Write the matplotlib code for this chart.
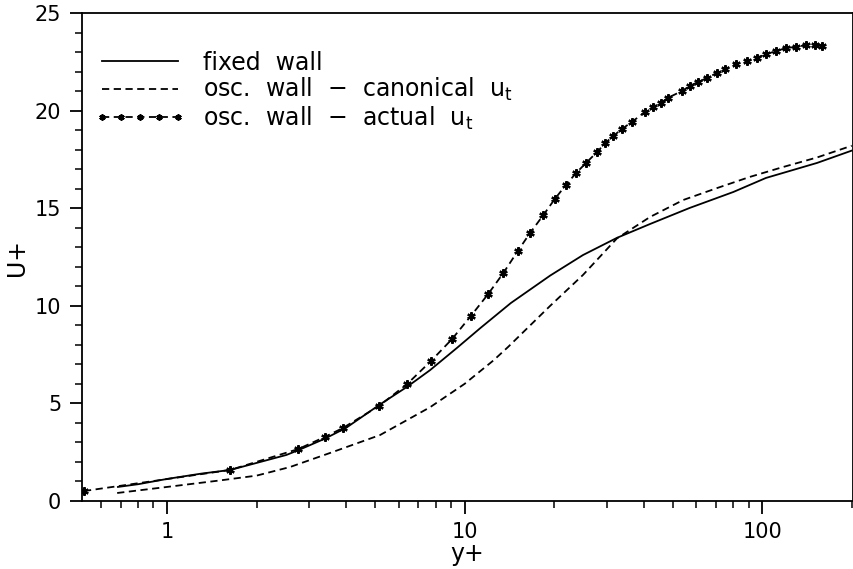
import numpy as np
import matplotlib
matplotlib.use("Agg")
from matplotlib import pyplot as plt
from matplotlib.ticker import FixedLocator, MultipleLocator, LogLocator, NullFormatter

# mean velocity profiles, wall units
fixed_y = [0.684, 0.8, 1.0, 1.3, 1.63, 2.0, 2.52, 2.76, 3.4, 4.0, 5.2, 6.41,
           7.65, 9.44, 11.3, 14.3, 19.4, 25.0, 32.5, 42.0, 57.0, 80.0, 103.0,
           153.0, 200.0]
fixed_u = [0.72, 0.86, 1.13, 1.40, 1.59, 1.95, 2.36, 2.60, 3.20, 3.75, 4.95,
           5.85, 6.70, 7.85, 8.86, 10.14, 11.55, 12.60, 13.48, 14.19, 15.01,
           15.83, 16.55, 17.32, 17.95]

canon_y = [0.68, 1.0, 1.5, 2.0, 2.59, 3.53, 5.2, 7.65, 10.0, 12.5, 14.0, 19.4,
           25.0, 32.5, 42.0, 54.3, 70.5, 90.8, 117.0, 153.0, 200.0]
canon_u = [0.41, 0.72, 1.05, 1.30, 1.74, 2.46, 3.38, 4.80, 6.00, 7.20, 7.89,
           10.0, 11.58, 13.45, 14.55, 15.42, 16.03, 16.60, 17.10, 17.60, 18.20]

actual_y = [0.526, 1.63, 2.76, 3.39, 3.90, 5.16, 6.41, 7.71, 9.08, 10.5, 12.0,
            13.5, 15.1, 16.6, 18.4, 20.1, 21.9, 23.7, 25.6, 27.9, 29.7, 31.6,
            33.8, 36.5, 40.4, 43.0, 45.6, 48.2, 53.7, 57.1, 61.0, 65.2, 70.5,
            75.2, 81.6, 88.8, 95.8, 103.4, 111.6, 120.4, 129.8, 140.0, 150.0,
            159.0]
actual_u = [0.51, 1.59, 2.66, 3.28, 3.74, 4.87, 5.99, 7.17, 8.30, 9.48, 10.60,
            11.68, 12.81, 13.73, 14.65, 15.47, 16.19, 16.80, 17.32, 17.88,
            18.34, 18.70, 19.06, 19.42, 19.93, 20.18, 20.39, 20.65, 21.00,
            21.26, 21.47, 21.67, 21.93, 22.13, 22.39, 22.54, 22.70, 22.90,
            23.05, 23.21, 23.26, 23.36, 23.36, 23.31]

labels = ["fixed  wall",
          r"osc.  wall  $-$  canonical  u$_{\mathrm{t}}$",
          r"osc.  wall  $-$  actual  u$_{\mathrm{t}}$"]

plt.rcParams["font.family"] = "DejaVu Sans"
plt.rcParams["mathtext.fontset"] = "dejavusans"

fig = plt.figure(figsize=(8.54, 5.69), dpi=100)
ax = fig.add_axes([82 / 854, 68 / 569, 771 / 854, 488 / 569])

dash = (0, (4, 2.5))
ax.plot(fixed_y, fixed_u, color="black", lw=1.3, linestyle="-", label=labels[0])
ax.plot(canon_y, canon_u, color="black", lw=1.3, linestyle=dash, label=labels[1])
ax.plot(actual_y, actual_u, color="black", lw=1.3, linestyle=dash,
        marker=(6, 2, 0), markersize=6, markeredgewidth=1.6, label=labels[2])

ax.set_xscale("log")
ax.set_xlim(0.518, 202)
ax.set_ylim(0, 25)

ax.xaxis.set_major_locator(FixedLocator([1, 10, 100]))
ax.set_xticklabels(["1", "10", "100"])
ax.xaxis.set_minor_locator(LogLocator(base=10, subs=np.arange(2, 10)))
ax.xaxis.set_minor_formatter(NullFormatter())
ax.yaxis.set_major_locator(MultipleLocator(5))
ax.yaxis.set_minor_locator(MultipleLocator(1))

ax.tick_params(which="major", direction="out", length=9, width=1.3,
               labelsize=15, pad=6)
ax.tick_params(which="minor", direction="out", length=5, width=1.1)
for s in ax.spines.values():
    s.set_linewidth(1.3)

ax.set_xlabel("y+", fontsize=17, labelpad=0)
ax.set_ylabel("U+", fontsize=17, labelpad=4)

leg = ax.legend(loc="upper left", bbox_to_anchor=(0.005, 0.942), frameon=False,
                fontsize=17, handlelength=3.8, handletextpad=0.75,
                labelspacing=0.05, numpoints=5, borderaxespad=0)
for h in leg.legend_handles:
    h.set_markersize(4.5)
    h.set_markeredgewidth(1.3)

fig.savefig("out.png", dpi=100)
